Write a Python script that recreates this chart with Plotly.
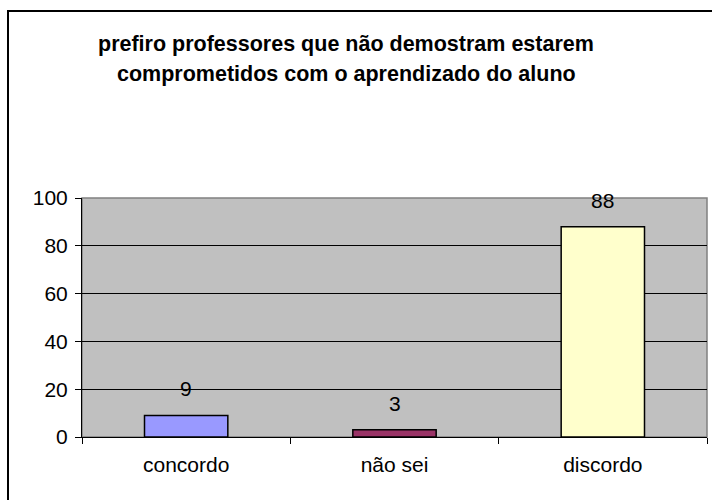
import plotly.graph_objects as go

# Survey answers (percent)
categories = ["concordo", "não sei", "discordo"]
values = [9, 3, 88]
bar_colors = ["#9999FF", "#993366", "#FFFFCC"]
y_ticks = [0, 20, 40, 60, 80, 100]
title_lines = [
    "prefiro professores que não demostram estarem",
    "comprometidos com o aprendizado do aluno",
]

W, H = 712, 500
# plot-area box in pixels
PL, PR, PT, PB = 82, 707, 198, 437
PW, PH = PR - PL, PB - PT


def px_x(x):
    return (x - PL) / PW


def px_y(y):
    return (PB - y) / PH


FONT = "Liberation Sans, Arial, sans-serif"
LABEL_SIZE = 21

fig = go.Figure(
    go.Bar(
        x=categories,
        y=values,
        width=0.4,
        marker=dict(color=bar_colors, line=dict(color="black", width=1.5)),
        hoverinfo="skip",
    )
)

# value labels above each bar
for c, v in zip(categories, values):
    fig.add_annotation(
        x=c, y=v, text=str(v), showarrow=False,
        yanchor="bottom", yshift=13,
        font=dict(family=FONT, size=LABEL_SIZE, color="black"),
    )

# two-line bold title
for i, line in enumerate(title_lines):
    fig.add_annotation(
        xref="paper", yref="paper",
        x=px_x(346), y=px_y(44 + 30 * i),
        text="<b>" + line + "</b>", showarrow=False,
        xanchor="center", yanchor="middle",
        font=dict(family=FONT, size=21.5, color="black"),
    )

# gray plot-area frame (covers the top gridline)
fig.add_shape(
    type="rect", xref="paper", yref="paper",
    x0=0, x1=1, y0=0, y1=1,
    line=dict(color="#808080", width=1.5), layer="between",
)
# chart-area border
fig.add_shape(
    type="rect", xref="paper", yref="paper",
    x0=px_x(8), x1=px_x(W + 10), y0=px_y(H + 10), y1=px_y(11),
    line=dict(color="black", width=2), fillcolor="rgba(0,0,0,0)",
)

fig.update_layout(
    width=W, height=H,
    margin=dict(l=PL, r=W - PR, t=PT, b=H - PB),
    paper_bgcolor="white",
    plot_bgcolor="#C0C0C0",
    showlegend=False,
    bargap=0.6,
    font=dict(family=FONT, size=LABEL_SIZE, color="black"),
)
fig.update_xaxes(
    type="category", range=[-0.5, 2.5],
    showline=True, linecolor="black", linewidth=1,
    ticks="outside", tickson="boundaries", ticklen=6, tickcolor="black",
    ticklabelstandoff=9,
    showgrid=False,
    tickfont=dict(family=FONT, size=LABEL_SIZE, color="black"),
)
fig.update_yaxes(
    range=[0, 100], tickvals=y_ticks,
    showline=True, linecolor="black", linewidth=1,
    ticks="outside", ticklen=6, tickcolor="black",
    ticklabelstandoff=3,
    showgrid=True, gridcolor="black", gridwidth=1,
    zeroline=False,
    tickfont=dict(family=FONT, size=LABEL_SIZE, color="black"),
)

fig.write_html("out.html")
